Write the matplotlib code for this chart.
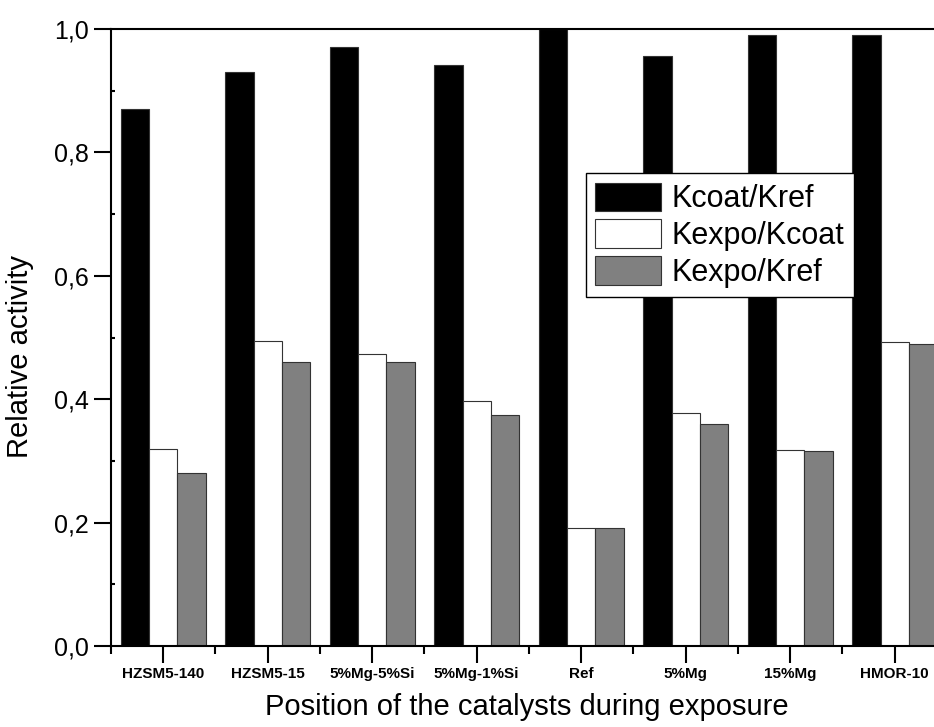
import numpy as np
import matplotlib
matplotlib.use("Agg")
import matplotlib.pyplot as plt
from matplotlib.ticker import MultipleLocator, FixedLocator

catalysts = ['HZSM5-140', 'HZSM5-15', '5%Mg-5%Si', '5%Mg-1%Si', 'Ref', '5%Mg', '15%Mg', 'HMOR-10']
kcoat_kref = [0.871, 0.931, 0.971, 0.941, 1.0, 0.957, 0.991, 0.991]
kexpo_kcoat = [0.320, 0.495, 0.473, 0.397, 0.191, 0.377, 0.318, 0.493]
kexpo_kref = [0.280, 0.460, 0.460, 0.374, 0.191, 0.360, 0.316, 0.489]

plt.rcParams['font.family'] = ['Liberation Sans', 'DejaVu Sans']

fig = plt.figure(figsize=(9.34, 7.27), dpi=100)
ax = fig.add_axes([0.1188, 0.1114, 0.8951, 0.8487])

x = np.arange(1, len(catalysts) + 1)
w = 0.272
ax.bar(x - w, kcoat_kref, w, color='black', edgecolor='#333333', linewidth=0.8, label='Kcoat/Kref')
ax.bar(x, kexpo_kcoat, w, color='white', edgecolor='#333333', linewidth=0.8, label='Kexpo/Kcoat')
ax.bar(x + w, kexpo_kref, w, color='#808080', edgecolor='#333333', linewidth=0.8, label='Kexpo/Kref')

ax.set_xlim(0.5, 8.5)
ax.set_ylim(0, 1.0)

ax.set_xticks(x)
ax.set_xticklabels(catalysts, fontsize=11, fontweight='bold')
ax.xaxis.set_minor_locator(FixedLocator(np.arange(0.5, 9, 1)))
ax.tick_params(axis='x', which='major', direction='out', length=12, width=1.5, pad=3)
ax.tick_params(axis='x', which='minor', direction='out', length=6, width=1.5)

yt = np.arange(0, 1.01, 0.2)
ax.set_yticks(yt)
ax.set_yticklabels([f'{v:.1f}'.replace('.', ',') for v in yt], fontsize=18)
ax.yaxis.set_minor_locator(MultipleLocator(0.1))
ax.tick_params(axis='y', which='major', direction='out', length=12, width=1.5, pad=4)
ax.tick_params(axis='y', which='minor', direction='in', length=3, width=1.5)

for s in ax.spines.values():
    s.set_linewidth(1.5)

ax.set_ylabel('Relative activity', fontsize=21)
ax.yaxis.set_label_coords(-0.092, 0.47)
ax.set_xlabel('Position of the catalysts during exposure', fontsize=21)
ax.xaxis.set_label_coords(0.497, -0.076)

leg = ax.legend(loc='upper left', bbox_to_anchor=(0.568, 0.766), borderaxespad=0,
                fontsize=22, handlelength=2.16, handleheight=1.08, labelspacing=0.16,
                handletextpad=0.35, borderpad=0.3, frameon=True, fancybox=False)
leg.get_frame().set_edgecolor('black')
leg.get_frame().set_linewidth(1.0)
leg.get_frame().set_alpha(1)

fig.savefig('out.png', dpi=100)
